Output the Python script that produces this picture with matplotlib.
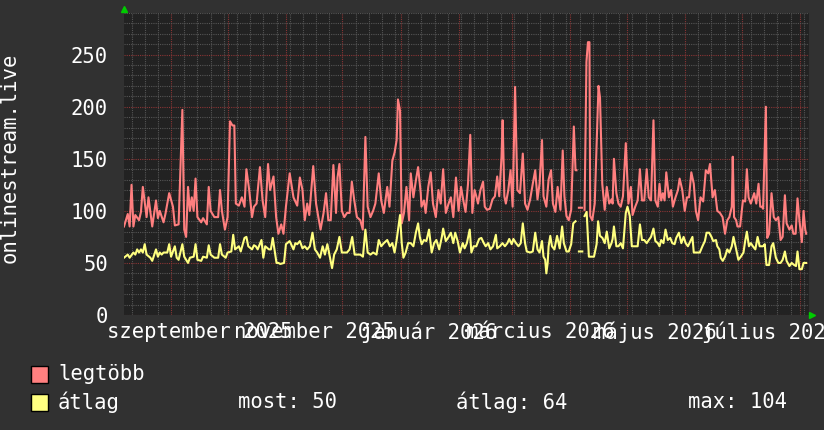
import numpy as np
import pandas as pd
import matplotlib
matplotlib.use("Agg")
import matplotlib.pyplot as plt
import matplotlib.dates as mdates
from matplotlib.ticker import MultipleLocator, NullFormatter
from matplotlib.patches import Rectangle

# days since 2025-08-07
start = pd.Timestamp("2025-08-07")
end = start + pd.Timedelta(days=363.8)

max_days = [
    0, 2, 3, 4, 5, 6, 8, 9, 10, 12, 13, 15, 17, 18, 19, 21, 22, 24, 26, 27, 29, 31, 32, 33, 34, 35,
    36, 37, 38, 39, 41, 42, 44, 45, 46, 48, 50, 51, 52, 53.6, 55, 56.3, 57.6, 58.6, 59.4, 61, 62.6,
    64, 65, 66.5, 68, 69, 70.4, 72.2, 73.6, 75, 76.5, 77.6, 79.4, 80.8, 82, 83.5, 84.7, 86, 88,
    90, 92, 93.4, 94.8, 96, 97.3, 98.4, 99.6, 100.5, 102, 103.2, 104.4, 106, 107.3, 108.5, 109.8,
    111.2, 112.6, 113.4, 114.4, 115.7, 117, 118.4, 119.8, 121, 122.3, 123.7, 125.5, 126.8, 128.2,
    129.4, 130.9, 132.3, 133.5, 135.3, 136.6, 138, 139.8, 141, 142.5, 143.7, 144.8, 145.5, 146.6,
    147.5, 148.7, 150, 151.4, 152.3, 153.7, 155, 156.2, 157.6, 158.0, 159.3, 160.2, 161.6, 162.9,
    164.1, 165.6, 167, 168.2, 169.5, 170.9, 172.4, 173.6, 174.9, 176.3, 177.7, 179, 180.2,
    181.4, 182.7, 183.9, 185, 186.2, 187.1, 188, 189.3, 190.7, 191.6, 192.8, 194.3, 195.7, 197,
    198.2, 199.3, 200.5, 201.1, 202, 202.8, 204.1, 205.3, 206.4, 207.7, 208.9, 210.3, 211.8, 213,
    214.3, 215.7, 217.1, 218.4, 219.6, 220.7, 222, 222.8, 224.3, 225.5, 226.8, 227.8, 229.1, 230.3,
    231.8, 233, 233.9, 235, 236.2, 237.5, 238.9, 239.8, 240.3, 240.8, 241.6, 243.2, 243.8, 244.6,
    245.6, 246.4, 247.2, 247.6, 248.7, 250, 251, 252, 252.8, 254, 255.3, 256.4, 257.7, 258.9, 259.5,
    260.2, 261.5, 262.6, 263.8, 265, 266.5, 267.9, 269.2,
    270.1, 271.5, 272.8, 274, 275.1, 276.3, 277.6, 278.7, 279.9, 281.2, 282.2, 283.5, 284.4, 285.3,
    286.2, 287.1, 288, 289.4, 290.6, 291.5, 292.9, 294.2, 295.1, 296.5, 297.8, 299, 300.1, 301.3,
    302.6, 303.7, 304.9, 306.2, 307.6, 309, 310.3, 311.2, 312.6, 313.8, 315.1, 316.5, 317.9, 319.2,
    320.4, 321.5, 322.8, 323.3, 324, 325.1, 325.8, 327.2, 328.7, 329.9, 330.8, 331.7, 332.9, 334,
    334.7, 335.8, 337, 337.9, 338.8, 339.4, 340.9, 341.6, 342.6, 343.9, 345.1, 346.2, 347.5, 348.7,
    349.8, 351, 351.9, 353.4, 354.6, 355.5, 356.7, 357.7, 358.7, 360, 360.9, 361.8, 362.3,
]
max_vals = [
    85, 97, 85, 125, 85, 96, 91, 99, 123, 94, 113, 85, 110, 93, 100, 89, 97, 117, 104, 86, 87, 197, 82, 75, 123, 100,
    113, 100, 131, 94, 89, 93, 87, 123, 100, 94, 94, 120, 100, 82, 94, 186, 182, 182, 107, 105, 113,
    104, 140, 120, 94, 104, 107, 142, 110, 94, 145, 120, 133, 94, 78, 87, 78, 104, 136,
    113, 105, 132, 120, 91, 107, 96, 123, 143, 107, 94, 82, 98, 117, 91, 91,
    144, 98, 132, 145, 100, 94, 98, 98, 128, 110, 94, 91, 82, 171,
    104, 94, 100, 107, 136, 110, 98, 123, 104, 148, 156, 168, 207, 196,
    88, 98, 123, 91, 136, 113, 129, 142, 117, 104, 110, 98, 123, 137,
    107, 94, 120, 107, 140, 98, 107, 113, 94, 132, 100, 123, 110,
    99, 126, 173, 98, 120, 114, 107, 120, 128, 104, 101, 102, 111, 114,
    133, 114, 152, 187, 114, 107, 120, 139, 104, 219, 120, 117, 155, 107,
    101, 111, 126, 139, 111, 126, 168, 114, 104, 130, 139, 107, 99, 123,
    101, 158, 114, 95, 91, 101, 181, 139, 139, np.nan, 103, 103, np.nan, 101,
    243, 262, 262, 95, 91, 107, 162, 220, 209, 126, 101, 123, 107, 111, 107,
    150, 117, 107, 104, 114, 165, 107, 123,
    96, 104, 110, 140, 110, 110, 140, 113, 110, 187, 110, 104, 126, 110,
    117, 110, 137, 113, 120, 104, 113, 120, 131, 120, 100, 113, 113, 137,
    126, 100, 91, 113, 109, 139, 136, 145, 113, 120, 100, 98, 94, 78,
    91, 94, 104, 152, 94, 91, 85, 85, 110, 109, 140, 113, 107, 113,
    117, 107, 126, 104, 104, 102, 200, 74, 78, 117, 94, 91, 94, 72,
    75, 115, 88, 82, 86, 78, 78, 112, 91, 70, 100, 82, 78,
]

avg_days = [
    0, 2, 3, 5, 6, 7, 8, 9, 10, 11, 12, 14, 15, 17, 18, 19, 20, 21, 23, 24, 25, 27, 28, 29, 31, 32,
    34, 35, 37, 38, 39, 41, 42, 44, 45, 46, 48, 50, 51, 52, 54, 55, 57, 58, 59, 61, 62, 64, 65, 66,
    68, 69, 70, 71, 73, 74, 75, 77, 78, 79, 81, 82, 83, 85, 86, 88, 90,
    91, 92, 93.4, 94.8, 96, 97.3, 98.7, 100.1, 101.4, 102.6, 104.1, 105.5, 106.7, 108, 109.4, 110.5,
    111.6, 113, 114.4, 115.7, 116.9, 118.4, 119.8, 121.2, 122.5, 123.7, 125.5, 126.9, 128.2, 129.4,
    130.9, 132.3, 134.1, 135.3, 136.6, 138, 139.8, 141.2, 142.5, 143.7, 144.8, 146.6, 147.5, 148.4,
    149.6, 150.9, 152.3, 153.7, 155, 156.2, 157.1, 158.1, 159.3, 160.6, 162, 163.4, 164.7, 165.9,
    167.4, 168.8, 169.5, 170.9, 172.4, 173.6, 174.9, 175.9, 177.2, 178.4, 179.9,
    180.9, 182.1, 183.6, 184.5, 185.7, 187.1, 188.6, 189.8, 191.1, 192.1, 193.4, 194.6, 196, 197.5,
    198.2, 199.6, 201, 202.3, 203.6, 204.6, 205.9, 206.8, 208.2, 209.5, 210.7, 211.8, 213, 213.9,
    215.7, 217.1, 218.4, 219.6, 220.7, 222, 222.8, 223.7, 224.3, 225, 225.5, 226.4, 227.3, 228.6,
    230, 231.4, 232.7, 233.6, 235, 236.2, 237.5, 238.6, 239.8, 240.8, 241.6, 243.4, 244, 244.6,
    245.7, 246.9, 248.2, 249.6, 251, 251.8, 252.8, 254.1, 255.3, 256.4, 257.7, 258.9, 259.5, 260.2,
    261.5, 262.6, 263.8, 265, 266.5, 267.4, 268.6, 269.7,
    270.1, 271.5, 272.8, 274, 275.1, 276.3, 277.6, 278.7, 279.9, 281.2, 282.2, 283.5, 284.4, 285.3,
    286.5, 287.6, 288.8, 290.1, 291.2, 292.4, 293.3, 294.7, 296, 297.2, 298.3, 299.5, 300.8, 301.9,
    302.6, 304, 305.8, 307.2, 308.5, 309.4, 310.8, 312, 312.9, 314.4, 315.1, 316.2, 316.9, 318,
    319.2, 320.4, 321.5, 322.8, 323.7, 325.1, 326.3, 327.6, 329, 329.9, 330.8, 331.9, 332.9, 334,
    335.3, 336.5, 337.6, 338.8, 339.4, 340.3, 341.2, 342.6, 343.9, 344.8, 346.2, 347.5, 348.7, 349.8,
    351, 351.9, 353.4, 354.6, 355.9, 356.9, 357.7, 358.7, 360, 360.9, 362.3,
]
avg_vals = [
    55, 58, 55, 60, 58, 63, 60, 63, 60, 68, 58, 55, 52, 63, 56, 60, 58, 60, 60, 68, 56, 66, 55, 53, 68, 56,
    50, 55, 56, 68, 53, 52, 56, 55, 67, 58, 55, 55, 68, 58, 55, 60, 61, 77, 63, 66, 61, 74, 75, 66,
    63, 67, 66, 63, 72, 55, 66, 63, 63, 74, 50, 50, 49, 50, 68, 71, 63,
    69, 68, 71, 64, 66, 63, 66, 79, 63, 60, 55, 66, 58, 68, 55, 45,
    58, 63, 75, 60, 60, 60, 63, 75, 58, 58, 58, 56, 82, 60,
    58, 60, 58, 72, 66, 69, 72, 66, 69, 60, 72, 96, 69, 55,
    60, 69, 69, 66, 79, 88, 75, 68, 72, 71, 82, 60, 69, 72,
    63, 75, 83, 71, 75, 79, 69, 79, 71, 60, 69,
    64, 69, 82, 60, 66, 66, 73, 74, 69, 66, 69, 63, 66, 77,
    64, 66, 69, 66, 69, 73, 68, 73, 69, 66, 69, 88, 69, 61,
    60, 61, 79, 63, 60, 71, 56, 53, 40, 50, 66, 76, 66, 63,
    76, 64, 85, 69, 61, 61, 68, 88, 90, np.nan, 61, 61, np.nan, 95,
    99, 56, 56, 56, 68, 90, 76, 74, 69, 80, 64, 69, 73, 85,
    66, 66, 69, 64, 98, 104, 95, 66,
    66, 66, 66, 87, 72, 72, 69, 72, 75, 83, 71, 69, 66, 72,
    69, 82, 72, 74, 69, 68, 74, 79, 69, 75, 69, 66, 71, 75,
    60, 60, 60, 66, 71, 79, 79, 75, 71, 72, 66, 63, 55, 52,
    56, 63, 60, 66, 75, 63, 53, 56, 60, 71, 80, 66, 69, 66,
    63, 75, 66, 66, 66, 68, 48, 48, 66, 69, 55, 50, 50, 53,
    61, 52, 47, 50, 48, 47, 61, 44, 44, 50, 50,
]

# bottom axis labels (Hungarian month names), centred on the middle of the month
label_dates = ["2025-09-16", "2025-11-16", "2026-01-16", "2026-03-16", "2026-05-16", "2026-07-16"]
label_texts = ["szeptember 2025", "november 2025", "január 2026", "március 2026", "május 2026", "július 2026"]

series_names = ["legtöbb", "átlag"]
series_colors = ["#ff7f7f", "#ffff80"]
stats_texts = ["most: 50", "átlag: 64", "max: 104"]

bg = "#313131"
canvas = "#222222"
font = "DejaVu Sans Mono"
fs = 14.8

max_t = start + pd.to_timedelta(max_days, unit="D")
avg_t = start + pd.to_timedelta(avg_days, unit="D")

fig = plt.figure(figsize=(8.24, 4.30), dpi=100, facecolor=bg)
ax = fig.add_axes([124 / 824, 115 / 430, 685 / 824, 302 / 430], facecolor=canvas)

ax.plot(max_t, max_vals, color=series_colors[0], lw=1.5, zorder=3)
ax.plot(avg_t, avg_vals, color=series_colors[1], lw=1.5, zorder=4)

ax.set_xlim(start, end)
ax.set_ylim(0, 290)

# grid like rrdtool: gray dotted minor, red dotted major
ax.xaxis.set_major_locator(mdates.MonthLocator())
ax.xaxis.set_minor_locator(mdates.WeekdayLocator(byweekday=mdates.MO))
ax.xaxis.set_major_formatter(NullFormatter())
ax.yaxis.set_major_locator(MultipleLocator(50))
ax.yaxis.set_minor_locator(MultipleLocator(10))
ax.grid(True, which="minor", color="#555555", linestyle=(0, (1, 1)), linewidth=0.8, zorder=1)
ax.grid(True, which="major", color="#8a3535", linestyle=(0, (1, 1)), linewidth=0.8, zorder=2)
ax.set_axisbelow(True)
ax.tick_params(which="both", length=0)
ax.tick_params(axis="y", colors="white", labelsize=fs, pad=11.5)
for lab in ax.get_yticklabels():
    lab.set_fontfamily(font)
for s in ax.spines.values():
    s.set_visible(False)

for d, t in zip(label_dates, label_texts):
    ax.text(pd.Timestamp(d), -0.022, t, transform=ax.get_xaxis_transform(),
            ha="center", va="top", color="white", fontsize=fs, family=font, clip_on=False)

ax.set_ylabel("onlinestream.live", color="white", fontsize=fs, family=font, labelpad=0)
ax.yaxis.set_label_coords(-0.152, 0.52)

# little green arrows at the axis ends
ax.plot([0], [1.012], marker="^", color="#00cc00", markersize=4, transform=ax.transAxes, clip_on=False)
ax.plot([1.004], [0.0], marker=">", color="#00cc00", markersize=4, transform=ax.transAxes, clip_on=False)

# legend rows
rows_y = [374 / 430, 402 / 430]
for i, (name, col) in enumerate(zip(series_names, series_colors)):
    y = 1 - rows_y[i]
    fig.patches.append(Rectangle((31 / 824, y - 8.5 / 430), 17 / 824, 17 / 430, transform=fig.transFigure,
                                 facecolor=col, edgecolor="black", linewidth=1))
    fig.text(58 / 824, y, name, color="white", fontsize=fs, family=font, va="center")
for x, t in zip([238, 456, 688], stats_texts):
    fig.text(x / 824, 1 - rows_y[1], t, color="white", fontsize=fs, family=font, va="center")

fig.savefig("out.png", dpi=100, facecolor=bg)
